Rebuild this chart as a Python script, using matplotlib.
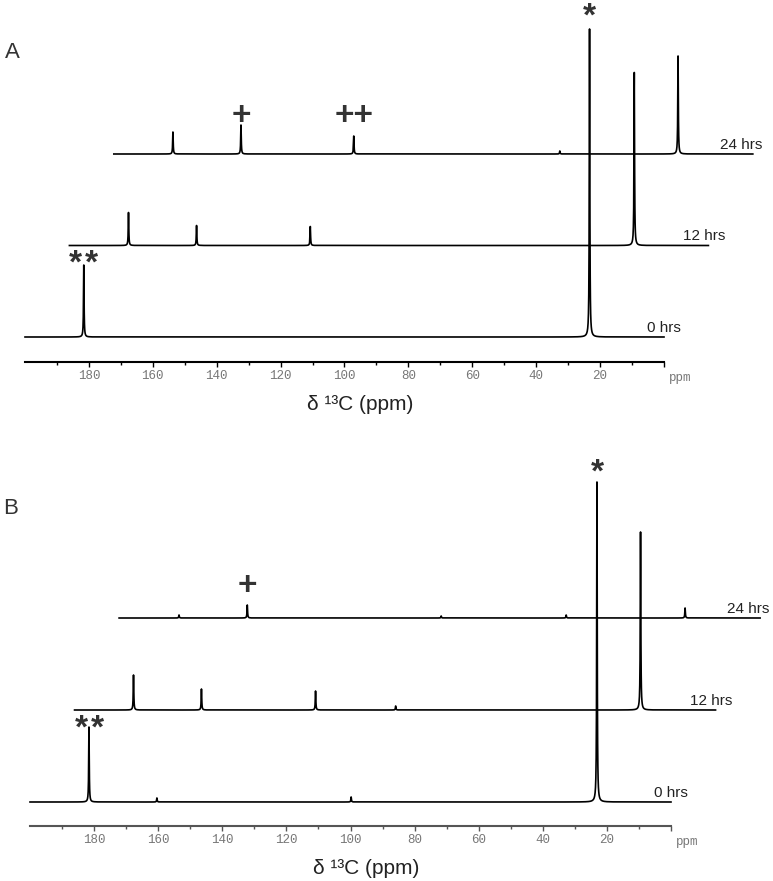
import numpy as np
import matplotlib.pyplot as plt

plt.rcParams['font.family'] = ['Liberation Sans', 'DejaVu Sans']

# 13C spectra, peaks given in each trace's own ppm; intensities in arbitrary units
HOURS = ['0 hrs', '12 hrs', '24 hrs']

A_PPM = [[181.6, 23.3],
         [181.5, 160.2, 124.6, 23.2],
         [181.5, 160.2, 124.9, 60.4, 23.4]]
A_INT = [[72, 308],
         [33, 20, 19, 173],
         [22, 29, 18, 3, 98]]

B_PPM = [[181.6, 160.4, 99.8, 23.1],
         [181.6, 160.4, 124.8, 99.8, 23.4],
         [181.3, 160.0, 99.5, 60.5, 23.4]]
B_INT = [[75, 4, 5, 320],
         [35, 21, 19, 4, 178],
         [3, 13, 2, 3, 10]]

# peak markers: (trace, peak ppm, symbol)
A_MARKS = [(0, 23.3, '*'), (0, 181.6, '**'), (2, 160.2, '+'), (2, 124.9, '++')]
B_MARKS = [(0, 23.1, '*'), (0, 181.6, '**'), (2, 160.0, '+')]
A_LIFT = [3, -8, 0, 11]
B_LIFT = [0, -11, 10]

TICKS = [180, 160, 140, 120, 100, 80, 60, 40, 20]

SHIFT = 13.9                # stacking offset, ppm to the right per trace
HW = 0.1                    # lorentzian half width
LABEL_GAP = [5.3, 5.3, 3.0]  # hrs label right edge past the trace end (ppm)


def spectrum(grid, centers, heights):
    y = np.zeros_like(grid)
    for c, h in zip(centers, heights):
        y += h * HW**2 / ((grid - c)**2 + HW**2)
    return y


def panel(ax, ppms, ints, marks, lifts, base, step, spine_col):
    for k, (cs, hs) in enumerate(zip(ppms, ints)):
        grid = np.union1d(np.linspace(0, 200, 20001), cs)
        y0 = base + k * step
        ax.plot(grid - k * SHIFT, y0 + spectrum(grid, cs, hs),
                color='black', lw=1.2, clip_on=False)
        ax.text(-k * SHIFT - LABEL_GAP[k], y0 + 5, HOURS[k], ha='right',
                va='baseline', fontsize=11, color='#222222')

    for (k, p, s), lift in zip(marks, lifts):
        h = ints[k][ppms[k].index(p)]
        y = base + k * step + h + lift
        x = p - k * SHIFT
        if s == '**':
            for dx in (2.5, -2.5):
                ax.text(x + dx, y, '*', ha='center', va='baseline', fontsize=24,
                        fontweight='bold', color='#333333')
        else:
            ax.text(x, y, s, ha='center', va='baseline', fontsize=24,
                    fontweight='bold', color='#333333')

    for side in ['top', 'left', 'right']:
        ax.spines[side].set_visible(False)
    ax.spines['bottom'].set_bounds(0, 200)
    ax.spines['bottom'].set_linewidth(1.5)
    ax.spines['bottom'].set_color(spine_col)
    ax.set_yticks([])
    ax.set_xticks(TICKS + [0])
    ax.set_xticklabels([str(t) for t in TICKS] + [''], family='Liberation Mono',
                       fontsize=9, color='#777777')
    ax.set_xticks(np.arange(10, 200, 20), minor=True)
    ax.tick_params(axis='x', which='major', direction='out', length=3.6,
                   width=1, pad=2.5, color=spine_col)
    ax.tick_params(axis='x', which='minor', direction='out', length=2,
                   width=1, color=spine_col)
    ax.text(-5, -16, 'ppm', ha='center', va='center', family='Liberation Mono',
            fontsize=9, color='#777777', clip_on=False)
    ax.text(95, -42, 'δ ¹³C (ppm)', ha='center', va='center', fontsize=15,
            color='#222222', clip_on=False)
    ax.patch.set_visible(False)


fig = plt.figure(figsize=(7.73, 8.81), dpi=100)

axA = fig.add_axes([0, 1 - 362 / 881, 1, 362 / 881])
axA.set_xlim(664 / 3.195, (664 - 773) / 3.195)
axA.set_ylim(0, 362)
panel(axA, A_PPM, A_INT, A_MARKS, A_LIFT, 25, 91.5, 'black')

axB = fig.add_axes([0, 55 / 881, 1, 386 / 881])
axB.set_xlim(671 / 3.205, (671 - 773) / 3.205)
axB.set_ylim(0, 386)
panel(axB, B_PPM, B_INT, B_MARKS, B_LIFT, 24, 92, '#555555')

fig.text(12 / 773, 1 - 52 / 881, 'A', ha='center', va='center', fontsize=16,
         color='#333333')
fig.text(11 / 773, 1 - 509 / 881, 'B', ha='center', va='center', fontsize=16,
         color='#333333')

fig.savefig('out.png', dpi=100)
